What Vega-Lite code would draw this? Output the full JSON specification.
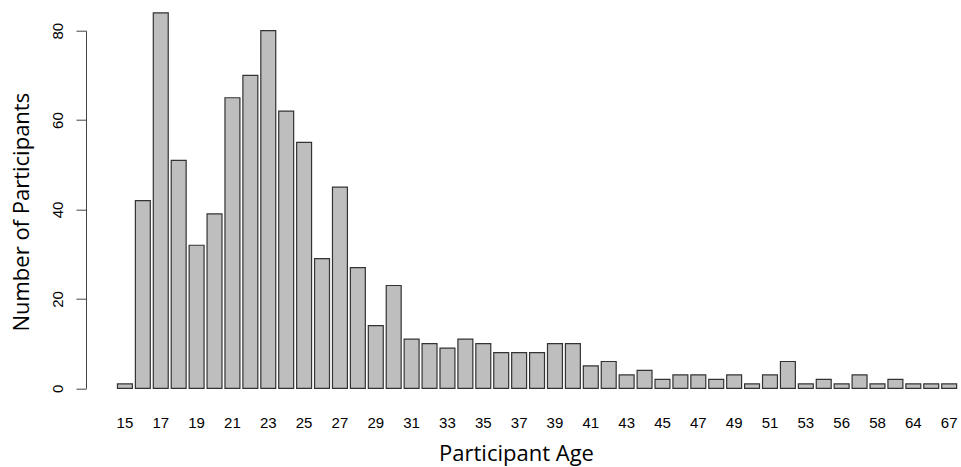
{
  "$schema": "https://vega.github.io/schema/vega-lite/v6.json",
  "width": 875,
  "height": 357.6,
  "autosize": {"type": "none"},
  "padding": {"left": 86, "top": 30.7, "right": 0, "bottom": 78.7},
  "background": "white",
  "config": {"view": {"stroke": null}},
  "data": {
    "values": [
      {"age": 15, "count": 1},
      {"age": 16, "count": 42},
      {"age": 17, "count": 84},
      {"age": 18, "count": 51},
      {"age": 19, "count": 32},
      {"age": 20, "count": 39},
      {"age": 21, "count": 65},
      {"age": 22, "count": 70},
      {"age": 23, "count": 80},
      {"age": 24, "count": 62},
      {"age": 25, "count": 55},
      {"age": 26, "count": 29},
      {"age": 27, "count": 45},
      {"age": 28, "count": 27},
      {"age": 29, "count": 14},
      {"age": 30, "count": 23},
      {"age": 31, "count": 11},
      {"age": 32, "count": 10},
      {"age": 33, "count": 9},
      {"age": 34, "count": 11},
      {"age": 35, "count": 10},
      {"age": 36, "count": 8},
      {"age": 37, "count": 8},
      {"age": 38, "count": 8},
      {"age": 39, "count": 10},
      {"age": 40, "count": 10},
      {"age": 41, "count": 5},
      {"age": 42, "count": 6},
      {"age": 43, "count": 3},
      {"age": 44, "count": 4},
      {"age": 45, "count": 2},
      {"age": 46, "count": 3},
      {"age": 47, "count": 3},
      {"age": 48, "count": 2},
      {"age": 49, "count": 3},
      {"age": 50, "count": 1},
      {"age": 51, "count": 3},
      {"age": 52, "count": 6},
      {"age": 53, "count": 1},
      {"age": 54, "count": 2},
      {"age": 56, "count": 1},
      {"age": 57, "count": 3},
      {"age": 58, "count": 1},
      {"age": 60, "count": 2},
      {"age": 64, "count": 1},
      {"age": 65, "count": 1},
      {"age": 67, "count": 1}
    ]
  },
  "mark": {"type": "bar", "fill": "#bebebe", "stroke": "#333333", "strokeWidth": 1.2},
  "encoding": {
    "x": {
      "field": "age",
      "type": "ordinal",
      "scale": {"paddingInner": 0.1667, "paddingOuter": 1.053, "align": 0.878},
      "axis": {
        "title": "Participant Age",
        "values": [15, 17, 19, 21, 23, 25, 27, 29, 31, 33, 35, 37, 39, 41, 43, 45, 47, 49, 51, 53, 56, 58, 64, 67],
        "labelAngle": 0,
        "labelOverlap": false,
        "domain": false,
        "ticks": false,
        "tickSize": 0,
        "grid": false,
        "labelPadding": 38.9,
        "labelBaseline": "alphabetic",
        "labelFont": "Liberation Sans",
        "labelFontSize": 15,
        "labelColor": "#000000",
        "titleFont": "Open Sans",
        "titleFontSize": 22,
        "titleFontWeight": "normal",
        "titleColor": "#000000",
        "titleX": 430,
        "titleY": 71.7,
        "titleAlign": "center",
        "titleBaseline": "alphabetic"
      }
    },
    "y": {
      "field": "count",
      "type": "quantitative",
      "scale": {"domain": [0, 80], "nice": false},
      "axis": {
        "title": "Number of Participants",
        "values": [0, 20, 40, 60, 80],
        "grid": false,
        "tickSize": 10,
        "tickColor": "#444444",
        "domainColor": "#444444",
        "labelPadding": 13.5,
        "labelAngle": -90,
        "labelAlign": "center",
        "labelBaseline": "alphabetic",
        "labelFont": "Liberation Sans",
        "labelFontSize": 15,
        "labelColor": "#000000",
        "labelOverlap": false,
        "titleFont": "Open Sans",
        "titleFontSize": 22,
        "titleFontWeight": "normal",
        "titleColor": "#000000",
        "titleX": -58,
        "titleY": 181,
        "titleAngle": -90,
        "titleAlign": "center",
        "titleBaseline": "alphabetic"
      }
    }
  }
}
